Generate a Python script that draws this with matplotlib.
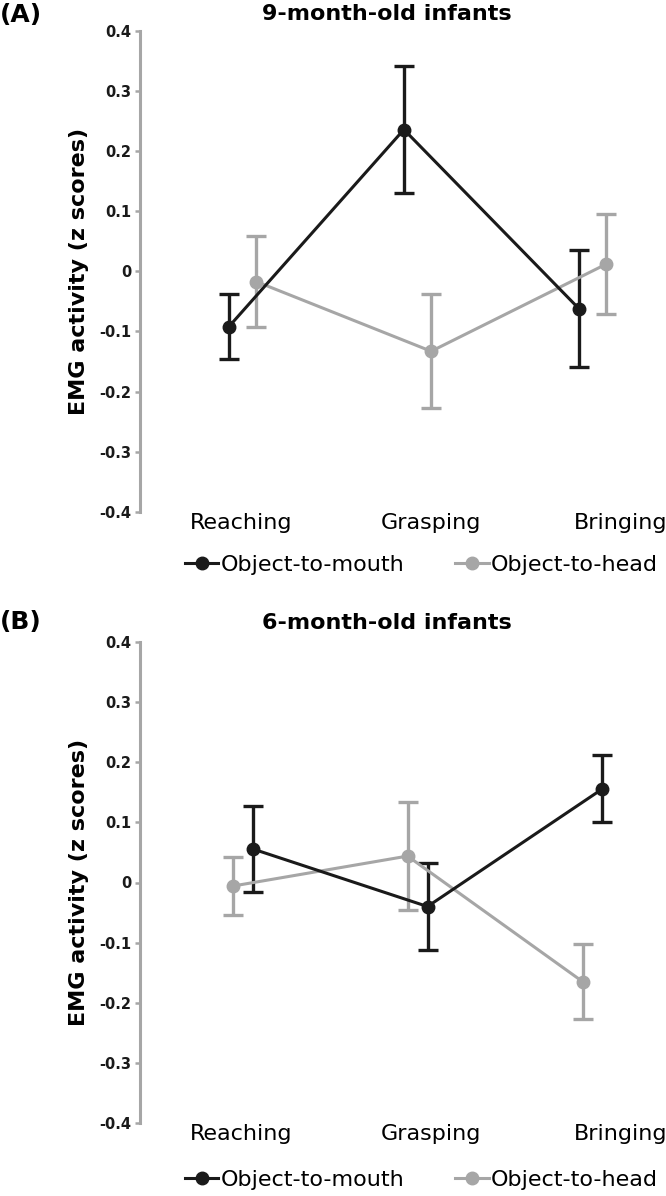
import numpy as np
import matplotlib
matplotlib.use("Agg")
import matplotlib.pyplot as plt
from matplotlib.lines import Line2D

stages = ["Reaching", "Grasping", "Bringing"]
y_ticks = [-0.4, -0.3, -0.2, -0.1, 0, 0.1, 0.2, 0.3, 0.4]
y_tick_labels = ["-0.4", "-0.3", "-0.2", "-0.1", "0", "0.1", "0.2", "0.3", "0.4"]

# 9-month-old infants
mouth_9m = [-0.092, 0.236, -0.062]
mouth_9m_err = [0.054, 0.106, 0.097]
head_9m = [-0.017, -0.133, 0.012]
head_9m_err = [0.075, 0.095, 0.083]

# 6-month-old infants
mouth_6m = [0.056, -0.040, 0.156]
mouth_6m_err = [0.072, 0.072, 0.056]
head_6m = [-0.006, 0.044, -0.165]
head_6m_err = [0.048, 0.090, 0.063]

BLACK = "#1a1a1a"
GRAY = "#a6a6a6"

W, H = 666, 1196
fig = plt.figure(figsize=(W / 100, H / 100), dpi=100)

ax_left = 140.2 / W
ax_w = (W - 140.2) / W
axA = fig.add_axes([ax_left, 1 - 511.7 / H, ax_w, 480.7 / H])
axB = fig.add_axes([ax_left, 1 - 1122.7 / H, ax_w, 480.4 / H])

x = np.arange(len(stages))
label_pos = x * 1.084 - 0.01


def draw_panel(ax, mouth, mouth_err, head, head_err, mouth_off, head_off):
    style = dict(lw=2.2, marker="o", ms=9, capsize=7.5, capthick=2.4,
                 elinewidth=2.4)
    ax.errorbar(x + head_off, head, yerr=head_err, color=GRAY, **style)
    ax.errorbar(x + mouth_off, mouth, yerr=mouth_err, color=BLACK, **style)
    ax.set_xlim(-0.585, 2.42)
    ax.set_ylim(-0.4, 0.4)
    for s in ["top", "right", "bottom"]:
        ax.spines[s].set_visible(False)
    ax.spines["left"].set_color(GRAY)
    ax.spines["left"].set_linewidth(2.2)
    ax.set_yticks(y_ticks, y_tick_labels)
    ax.tick_params(axis="y", colors=GRAY, length=3.5, width=1.8, pad=3,
                   labelcolor=BLACK)
    for t in ax.get_yticklabels():
        t.set_fontweight("bold")
        t.set_fontsize(10.5)
    ax.set_xticks(label_pos, stages)
    ax.tick_params(axis="x", length=0, pad=1, labelsize=16)
    ax.patch.set_alpha(0)


draw_panel(axA, mouth_9m, mouth_9m_err, head_9m, head_9m_err, -0.078, 0.078)
draw_panel(axB, mouth_6m, mouth_6m_err, head_6m, head_6m_err, 0.057, -0.057)

handles = [Line2D([], [], color=BLACK, lw=2.2, marker="o", ms=9),
           Line2D([], [], color=GRAY, lw=2.2, marker="o", ms=9)]
labels = ["Object-to-mouth", "Object-to-head"]
for ypix in [565, 1180]:
    fig.legend(handles, labels, loc="center left",
               bbox_to_anchor=(185 / W, 1 - ypix / H),
               ncol=2, frameon=False, fontsize=16, handlelength=1.5,
               handletextpad=0.1, columnspacing=2.3, borderpad=0,
               borderaxespad=0)

# titles and panel letters
fig.text(387 / W, 1 - 14 / H, "9-month-old infants", ha="center", va="center",
         fontsize=16, fontweight="bold")
fig.text(387 / W, 1 - 623 / H, "6-month-old infants", ha="center", va="center",
         fontsize=16, fontweight="bold")
fig.text(0, 1 - 15 / H, "(A)", ha="left", va="center", fontsize=18,
         fontweight="bold")
fig.text(0, 1 - 622 / H, "(B)", ha="left", va="center", fontsize=18,
         fontweight="bold")

# y labels
fig.text(79 / W, 1 - 271 / H, "EMG activity (z scores)", rotation=90,
         ha="center", va="center", fontsize=16, fontweight="bold")
fig.text(79 / W, 1 - 882.7 / H, "EMG activity (z scores)", rotation=90,
         ha="center", va="center", fontsize=16, fontweight="bold")

fig.savefig("out.png", dpi=100)
